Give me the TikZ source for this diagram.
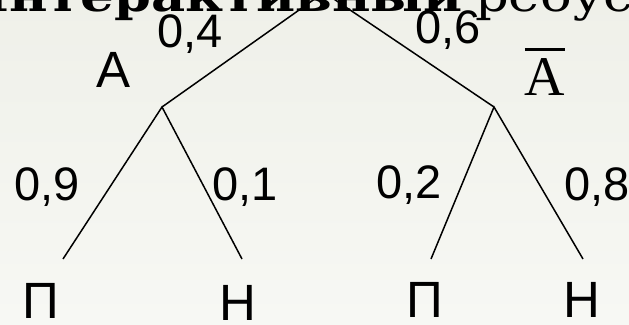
\documentclass[tikz,border=0pt]{standalone}
\usepackage{fontspec}
\setmainfont{Liberation Sans}
\newfontfamily\titlefont{DejaVu Serif}
\newfontfamily\barfont{Liberation Serif}
\definecolor{bgtop}{HTML}{EFF0E9}
\definecolor{bgbot}{HTML}{F7F8F4}
\begin{document}
\begin{tikzpicture}[x=1pt,y=-1pt,
  branch/.style={draw=black,line width=1.5pt},
  prob/.style={anchor=base,inner sep=0pt,text depth=0pt,font=\fontsize{47}{50}\selectfont},
  event/.style={anchor=base,inner sep=0pt,text depth=0pt,font=\fontsize{51}{54}\selectfont},
  titletext/.style={inner sep=0pt,text depth=0pt,font=\titlefont\fontsize{44}{46}\selectfont}]
\useasboundingbox (0,0) rectangle (629,324);
\clip (0,0) rectangle (629,324);
\shade[top color=bgtop,bottom color=bgbot] (0,0) rectangle (629,324);
% title text (cut at top)
\node[titletext,anchor=base east] (title) at (463,11) {\scalebox{1.2}[1]{\bfseries Интерактивный}};
\node[titletext,anchor=base west] (title2) at (475,11) {\scalebox{1.2}[1]{ребус}};
% tree points
\coordinate (root) at (324,-7.6);
\coordinate (a) at (162,107);
\coordinate (abar) at (494,107);
\coordinate (l1) at (63,259);
\coordinate (l2) at (242,259);
\coordinate (l3) at (431,259);
\coordinate (l4) at (583,259);
\draw[branch] (a) -- (root) -- (abar);
\draw[branch] (l1) -- (a) -- (l2);
\draw[branch] (l3) -- (abar) -- (l4);
% labels
\node[prob] (p04) at (190,47) {0,4};
\node[prob] (p06) at (448,43) {0,6};
\node[event] (la) at (114,87) {A};
\node[anchor=base,inner sep=0pt,text depth=0pt,font=\barfont\fontsize{56}{58}\selectfont] (lab) at (545,95)
  {\setbox0\hbox{A}\rlap{\raisebox{\dimexpr\ht0+7pt\relax}{\rule{\wd0}{3pt}}}A};
\node[prob] (p09) at (47,200) {0,9};
\node[prob] (p01) at (245,200) {0,1};
\node[prob] (p02) at (409,198) {0,2};
\node[prob] (p08) at (597,200) {0,8};
\node[event] (n1) at (41,318) {П};
\node[event] (n2) at (238,320) {Н};
\node[event] (n3) at (425,317) {П};
\node[event] (n4) at (582,317) {Н};
\end{tikzpicture}
\end{document}
